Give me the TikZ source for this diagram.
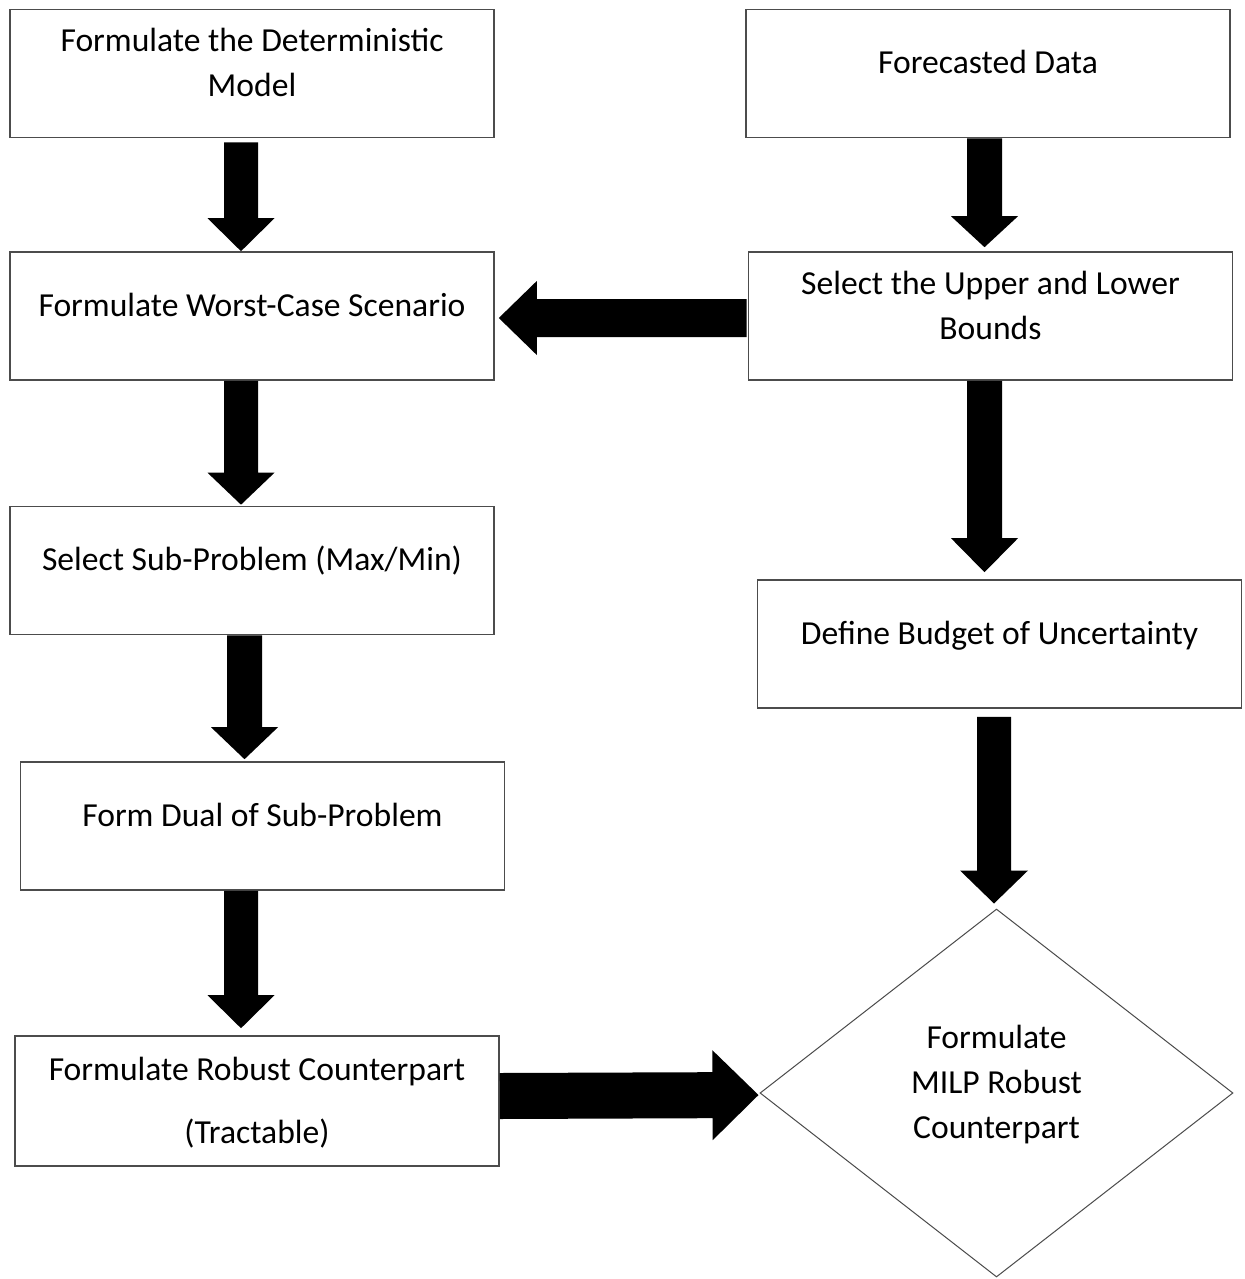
\documentclass[tikz,border=0pt]{standalone}
\usepackage{fontspec}
\setmainfont{Carlito}
\usetikzlibrary{shapes.geometric,calc}

% block arrow: start, tip, shaft half width, head half width, head length
\newcommand{\bigarrow}[5]{%
  \path (#1) coordinate (ba-s) (#2) coordinate (ba-t);
  \path ($(ba-t)!#5!(ba-s)$) coordinate (ba-h);
  \fill ($(ba-s)!#3!90:(ba-t)$) -- ($(ba-h)!#3!-90:(ba-s)$)
    -- ($(ba-h)!#4!-90:(ba-s)$) -- (ba-t) -- ($(ba-h)!#4!90:(ba-s)$)
    -- ($(ba-h)!#3!90:(ba-s)$) -- ($(ba-s)!#3!-90:(ba-t)$) -- cycle;}

\begin{document}
\begin{tikzpicture}[x=0.5pt,y=-0.5pt]
    \tikzstyle{every node}=[font=\fontsize{16.8}{22.5}\selectfont]
    \tikzstyle{box}=[draw=black!70, line width=0.8pt, inner sep=0pt, align=center,
      minimum width=242pt, minimum height=64pt, text height=11.5pt, text depth=11.5pt]
    \tikzstyle{twoline}=[text height=34.5pt]
    \fill[white] (0,0) rectangle (1244,1279);
    \useasboundingbox (0,0) rectangle (1244,1279);
    % left column
    \node[box,twoline] (det) at (252,73.5) {Formulate the Deterministic\\Model};
    \node[box] (worst) at (252,316) {Formulate Worst-Case Scenario};
    \node[box] (sub) at (252,570.5) {Select Sub-Problem (Max/Min)};
    \node[box] (dual) at (262.5,826) {Form Dual of Sub-Problem};
    \node[box,text height=53.5pt] (robust) at (257,1101) {Formulate Robust Counterpart\\[9pt](Tractable)};
    % right column
    \node[box] (fore) at (988,73.5) {Forecasted Data};
    \node[box,twoline] (bounds) at (990.5,316) {Select the Upper and Lower\\Bounds};
    \node[box] (budget) at (999.5,644) {Define Budget of Uncertainty};
    \node[diamond, draw=black!70, line width=0.5pt, inner sep=0pt, align=center,
      minimum width=236.5pt, minimum height=184pt, text height=56.5pt,
      text depth=11.5pt] (milp) at (996.5,1093) {Formulate\\MILP Robust\\Counterpart};
    % arrows
    \bigarrow{[xshift=-5.5pt,yshift=-2pt]det.south}{[xshift=-5.5pt]worst.north}{8.5pt}{16.75pt}{16.5pt}
    \bigarrow{[xshift=-5.5pt]worst.south}{[xshift=-5.5pt,yshift=0.5pt]sub.north}{8.5pt}{16.75pt}{16pt}
    \bigarrow{[xshift=-3.75pt]sub.south}{[xshift=-9pt,yshift=1pt]dual.north}{8.75pt}{16.75pt}{16pt}
    \bigarrow{[xshift=-10.75pt]dual.south}{[xshift=-8pt,yshift=3.5pt]robust.north}{8.5pt}{16.75pt}{16.5pt}
    \bigarrow{[xshift=-1.75pt]fore.south}{[xshift=-3pt,yshift=2pt]bounds.north}{8.75pt}{16.75pt}{15.5pt}
    \bigarrow{[xshift=-3pt]bounds.south}{[xshift=-7.5pt,yshift=3.5pt]budget.north}{8.75pt}{16.75pt}{17pt}
    \bigarrow{[xshift=-2.75pt,yshift=-4pt]budget.south}{[xshift=-1.25pt,yshift=2.5pt]milp.north}{8.5pt}{17pt}{16.5pt}
    \bigarrow{[xshift=-0.5pt,yshift=-1pt]bounds.west}{[xshift=2pt,yshift=-1pt]worst.east}{9.5pt}{18.5pt}{19pt}
    \bigarrow{[yshift=2.5pt]robust.east}{[xshift=-0.5pt,yshift=-1pt]milp.west}{11.5pt}{22.5pt}{23pt}
\end{tikzpicture}
\end{document}
